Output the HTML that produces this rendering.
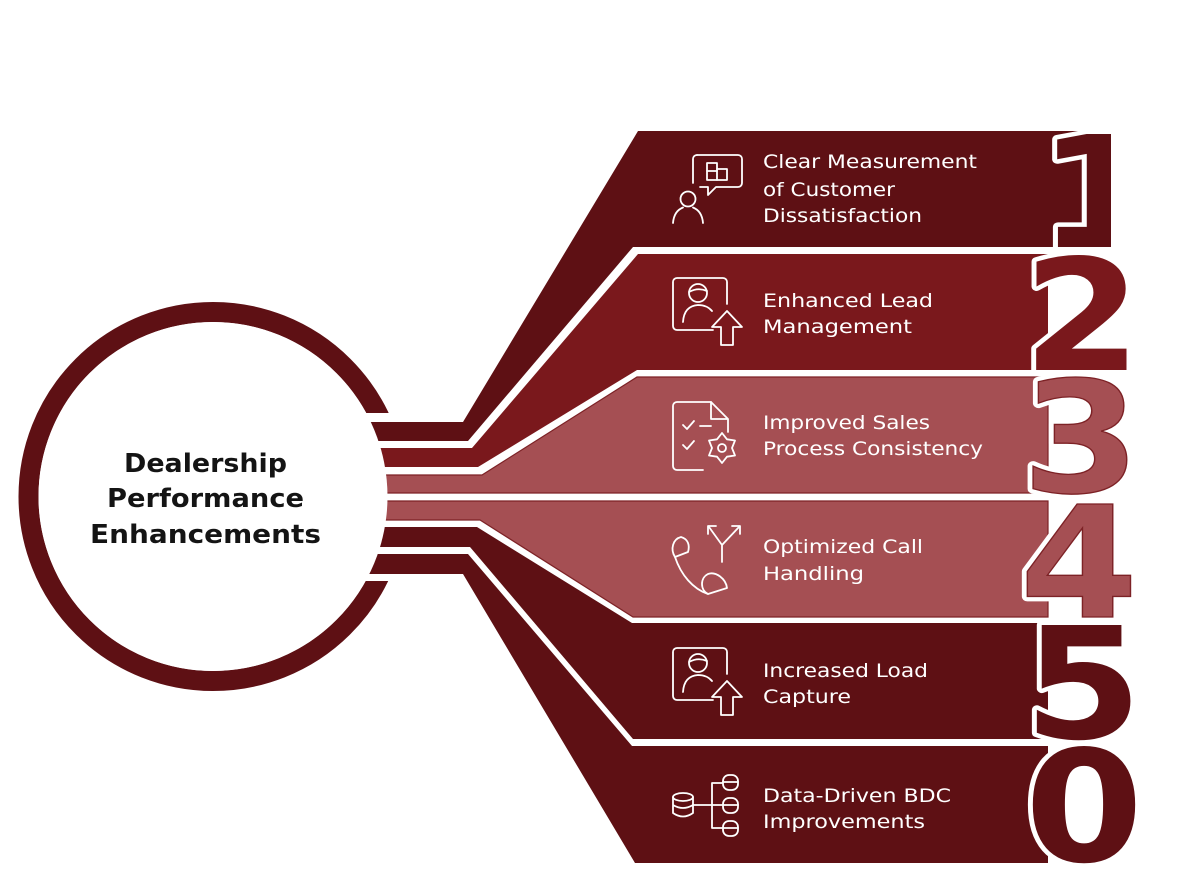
<!DOCTYPE html>
<html>
<head>
<meta charset="utf-8">
<style>
  html, body { margin: 0; padding: 0; background: #ffffff; }
  svg { display: block; }
  .lbl { font-family: "DejaVu Sans", "Liberation Sans", sans-serif; font-size: 19px; fill: #ffffff; }
  .ctr { font-family: "DejaVu Sans", "Liberation Sans", sans-serif; font-size: 26px; font-weight: bold; fill: #141414; }
  .dig { font-family: "DejaVu Sans", sans-serif; font-size: 155px; font-weight: bold; text-anchor: middle; }
  .ic { fill: none; stroke: #ffffff; stroke-width: 1.8; stroke-linecap: round; stroke-linejoin: round; }
</style>
</head>
<body>
<svg width="1184" height="880" viewBox="0 0 1184 880" xmlns="http://www.w3.org/2000/svg">
  <defs>
    <clipPath id="c1"><rect x="1000" y="131" width="111" height="116"/></clipPath>
  </defs>
  <rect x="0" y="0" width="1184" height="880" fill="#ffffff"/>

  <!-- ring -->
  <circle cx="213" cy="496.5" r="184.5" fill="none" stroke="#5e1014" stroke-width="20"/>
  <rect x="330" y="413" width="100" height="168" fill="#ffffff"/>

  <!-- bands -->
  <polygon points="360,422 463,422 638,131 1111,131 1111,247 633,247 468,441 360,441" fill="#5e1014"/>
  <polygon points="360,448 472,448 638,254 1048,254 1048,370 637,370 478,467 360,467" fill="#7a181c"/>
  <polygon points="360,475 482,475 637,377 1048,377 1048,493 360,493" fill="#a54f53" stroke="#7d2226" stroke-width="1.2"/>
  <polygon points="360,501 1048,501 1048,617 633,617 480,520 360,520" fill="#a54f53" stroke="#7d2226" stroke-width="1.2"/>
  <polygon points="360,527 477,527 632,623 1048,623 1048,739 633,739 470,547 360,547" fill="#5e1014"/>
  <polygon points="360,554 468,554 632,746 1048,746 1048,863 635,863 463,574 360,574" fill="#5e1014"/>

  <!-- inner white of circle -->
  <circle cx="213" cy="496.5" r="174.5" fill="#ffffff"/>

  <!-- center text -->
  <text class="ctr" x="124" y="472" textLength="163" lengthAdjust="spacingAndGlyphs">Dealership</text>
  <text class="ctr" x="107" y="507" textLength="197" lengthAdjust="spacingAndGlyphs">Performance</text>
  <text class="ctr" x="90" y="543" textLength="231" lengthAdjust="spacingAndGlyphs">Enhancements</text>

  <!-- digits -->
  <g clip-path="url(#c1)">
    <g transform="translate(1098,247) scale(1.12,1)">
      <text class="dig" x="0" y="0" fill="#5e1014" stroke="#ffffff" stroke-width="9" stroke-linejoin="round" paint-order="stroke">1</text>
    </g>
  </g>
  <g transform="translate(1082,370) scale(1.1,1)">
    <text class="dig" x="0" y="0" fill="#7a181c" stroke="#ffffff" stroke-width="9" stroke-linejoin="round" paint-order="stroke">2</text>
  </g>
  <g transform="translate(1081,492) scale(1.1,1)">
    <text class="dig" x="0" y="0" fill="#a54f53" stroke="#ffffff" stroke-width="10" stroke-linejoin="round" paint-order="stroke">3</text>
    <text class="dig" x="0" y="0" fill="#a54f53" stroke="#7d2226" stroke-width="1.3">3</text>
  </g>
  <g transform="translate(1079,617) scale(1.1,1)">
    <text class="dig" x="0" y="0" fill="#a54f53" stroke="#ffffff" stroke-width="10" stroke-linejoin="round" paint-order="stroke">4</text>
    <text class="dig" x="0" y="0" fill="#a54f53" stroke="#7d2226" stroke-width="1.3">4</text>
  </g>
  <g transform="translate(1083,738) scale(1.1,1)">
    <text class="dig" x="0" y="0" fill="#5e1014" stroke="#ffffff" stroke-width="9" stroke-linejoin="round" paint-order="stroke">5</text>
  </g>
  <g transform="translate(1084,861) scale(1.1,1)">
    <text class="dig" x="0" y="0" fill="#5e1014" stroke="#ffffff" stroke-width="9" stroke-linejoin="round" paint-order="stroke">0</text>
  </g>

  <!-- band labels -->
  <text class="lbl" x="763" y="168" textLength="214" lengthAdjust="spacingAndGlyphs">Clear Measurement</text>
  <text class="lbl" x="763" y="196" textLength="132" lengthAdjust="spacingAndGlyphs">of Customer</text>
  <text class="lbl" x="763" y="222" textLength="159" lengthAdjust="spacingAndGlyphs">Dissatisfaction</text>

  <text class="lbl" x="763" y="307" textLength="170" lengthAdjust="spacingAndGlyphs">Enhanced Lead</text>
  <text class="lbl" x="763" y="333" textLength="149" lengthAdjust="spacingAndGlyphs">Management</text>

  <text class="lbl" x="763" y="429" textLength="167" lengthAdjust="spacingAndGlyphs">Improved Sales</text>
  <text class="lbl" x="763" y="455" textLength="220" lengthAdjust="spacingAndGlyphs">Process Consistency</text>

  <text class="lbl" x="763" y="553" textLength="160" lengthAdjust="spacingAndGlyphs">Optimized Call</text>
  <text class="lbl" x="763" y="580" textLength="101" lengthAdjust="spacingAndGlyphs">Handling</text>

  <text class="lbl" x="763" y="677" textLength="165" lengthAdjust="spacingAndGlyphs">Increased Load</text>
  <text class="lbl" x="763" y="703" textLength="88" lengthAdjust="spacingAndGlyphs">Capture</text>

  <text class="lbl" x="763" y="802" textLength="188" lengthAdjust="spacingAndGlyphs">Data-Driven BDC</text>
  <text class="lbl" x="763" y="828" textLength="162" lengthAdjust="spacingAndGlyphs">Improvements</text>

  <!-- icon 1: speech bubble + person -->
  <g class="ic">
    <path d="M697 155 H738 a4 4 0 0 1 4 4 V183 a4 4 0 0 1 -4 4 H716 L708 195 V187 H700"/>
    <path d="M693 183 V159 a4 4 0 0 1 4 -4"/>
    <rect x="707" y="163" width="10" height="17"/>
    <path d="M707 171 H717 M717 169 H727 V180 H717"/>
    <circle cx="688" cy="199" r="7.5"/>
    <path d="M673 223 Q674 211 683 207.5 M693 207.5 Q702 211 703 223"/>
  </g>

  <!-- icon 2: frame + person + arrow -->
  <g class="ic" id="ic2">
    <path d="M713 330 H677 a4 4 0 0 1 -4 -4 V282 a4 4 0 0 1 4 -4 H723 a4 4 0 0 1 4 4 V304"/>
    <circle cx="698" cy="293" r="9"/>
    <path d="M689 292 Q698 287 707 291"/>
    <path d="M683 322 Q684 306 698 305 Q707 305 712 311"/>
    <path d="M721 345 V327 H712 L727 311 L742 327 H733 V345 Z"/>
  </g>

  <!-- icon 3: checklist document + gear -->
  <g class="ic">
    <path d="M711 402 H677 a4 4 0 0 0 -4 4 V466 a4 4 0 0 0 4 4 H703"/>
    <path d="M711 402 L728 419 M711 402 V419 H728 V432"/>
    <path d="M683 425 L687 429 L694 421"/>
    <path d="M700 426 H711"/>
    <path d="M683 445 L687 449 L694 441"/>
    <polygon points="722,433 727,439.3 735,440.5 732,448 735,455.5 727,456.7 722,463 717,456.7 709,455.5 712,448 709,440.5 717,439.3"/>
    <circle cx="722" cy="448" r="4"/>
  </g>

  <!-- icon 4: phone + fork arrows -->
  <g class="ic">
    <path d="M681 537 C673 539 670 549 675 557 L688 552 C690 545 688 539 681 537 Z"/>
    <path d="M675 557 C681 575 693 589 708 594"/>
    <path d="M708 594 C700 590 700 578 708 574 C716 571 726 579 727 588 Z"/>
    <path d="M722 562 V545 M722 545 L709 527 M722 545 L739 527"/>
    <path d="M708 534 V526 H716 M732 526 H740 V534"/>
  </g>

  <!-- icon 5: same as icon 2, shifted -->
  <use href="#ic2" transform="translate(0,370)"/>

  <!-- icon 6: database tree -->
  <g class="ic">
    <ellipse cx="683" cy="797" rx="10" ry="4"/>
    <path d="M673 797 V813 Q683 820 693 813 V797 M673 805 Q683 811 693 805"/>
    <path d="M693 805 H712 M712 783 V828 M712 783 H722 M712 805 H722 M712 828 H722"/>
    <rect x="723" y="775" width="15" height="15" rx="6"/>
    <path d="M723 782 H738"/>
    <rect x="723" y="798" width="15" height="15" rx="6"/>
    <path d="M723 805 H738"/>
    <rect x="723" y="821" width="15" height="15" rx="6"/>
    <path d="M723 828 H738"/>
  </g>
</svg>
</body>
</html>
